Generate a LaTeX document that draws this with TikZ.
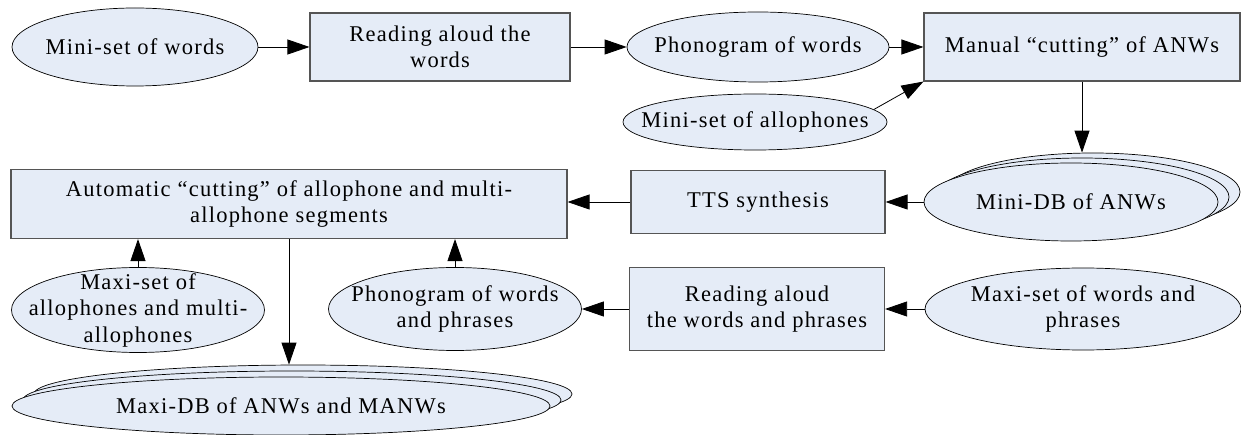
\documentclass[tikz,border=0pt]{standalone}
\usepackage{fontspec}
\setmainfont{Liberation Serif}[LetterSpace=5.5]
\usetikzlibrary{arrows.meta,shapes.geometric,shadows}
\definecolor{cellfill}{RGB}{229,236,247}
\definecolor{cellline}{RGB}{85,85,85}

\begin{document}
\begin{tikzpicture}[
  x=1pt,y=-1pt,
  font=\fontsize{22.5}{26.5}\selectfont,
  proc/.style={rectangle,draw=cellline,line width=1.1pt,fill=cellfill,inner sep=0pt,align=center},
  data/.style={ellipse,draw=black,line width=0.7pt,fill=cellfill,inner xsep=-70pt,inner ysep=-22pt,align=center},
  flow/.style={draw=black,line width=0.8pt,-{Triangle[length=22pt,width=15pt]}}
]
\useasboundingbox (0,0) rectangle (1241,435);

% First pass: small hand-made database.
\node[data,minimum width=246,minimum height=78] (minwords) at (135,47) {Mini-set of words};
\node[proc,minimum width=260,minimum height=68] (read1) at (440,47) {Reading aloud the\\words};
\node[data,minimum width=262,minimum height=70] (phono1) at (758,47) {Phonogram of words};
\node[proc,minimum width=316,minimum height=68] (manual) at (1082,47) {Manual “cutting” of ANWs};
\node[data,minimum width=264,minimum height=56] (minallo) at (755,122) {Mini-set of allophones};
\node[data,minimum width=294,minimum height=78,
  copy shadow={shadow xshift=22pt,shadow yshift=10pt},
  copy shadow={shadow xshift=11pt,shadow yshift=5pt}] (minidb) at (1071,202) {Mini-DB of ANWs};
\node[proc,minimum width=254,minimum height=63] (tts) at (758,202) {TTS synthesis};

\draw[flow] (minwords) -- (read1);
\draw[flow] (read1) -- (phono1);
\draw[flow] (phono1) -- (manual);
\draw[flow] (minallo.6) -- (manual.south west);
\draw[flow] (manual.south) -- ([yshift=10pt]manual.south |- minidb.north);
\draw[flow] (minidb) -- (tts);

% Second pass: automatic cutting into the large database.
\node[proc,minimum width=556,minimum height=69] (autocut) at (289,204)
  {Automatic “cutting” of allophone and multi-\\allophone segments};
\node[data,minimum width=253,minimum height=85] (maxallo) at (138,310)
  {Maxi-set of\\allophones and multi-\\allophones};
\node[data,minimum width=253,minimum height=83] (phono2) at (455,309)
  {Phonogram of words\\and phrases};
\node[proc,minimum width=255,minimum height=83] (read2) at (757,309)
  {Reading aloud\\the words and phrases};
\node[data,minimum width=316,minimum height=82] (maxwords) at (1083,309)
  {Maxi-set of words and\\phrases};
\node[data,minimum width=538,minimum height=58,
  copy shadow={shadow xshift=22pt,shadow yshift=12pt},
  copy shadow={shadow xshift=11pt,shadow yshift=6pt}] (maxidb) at (281,406) {Maxi-DB of ANWs and MANWs};

\draw[flow] (tts) -- (tts -| autocut.east);
\draw[flow] (maxallo.north) -- (maxallo.north |- autocut.south);
\draw[flow] (phono2.north) -- (phono2.north |- autocut.south);
\draw[flow] (maxwords) -- (read2);
\draw[flow] (read2) -- (phono2);
\draw[flow] (autocut.south) -- ([yshift=12pt]autocut.south |- maxidb.north);
\end{tikzpicture}
\end{document}
